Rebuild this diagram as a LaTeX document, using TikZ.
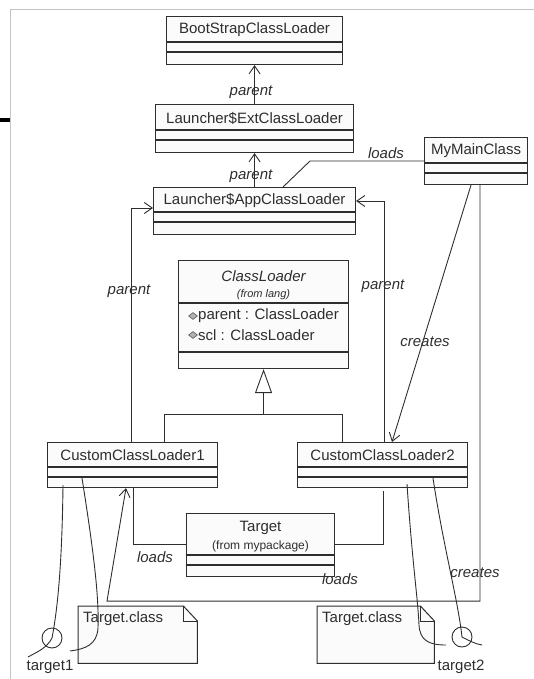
\documentclass[tikz,border=0pt]{standalone}
\usepackage{fontspec}
\setmainfont{Liberation Sans}
\usetikzlibrary{arrows.meta,calc,shapes.geometric}

\definecolor{ink}{HTML}{2E2E2E}
\definecolor{framegray}{HTML}{C4C4C4}
\definecolor{boxfill}{HTML}{FBFBFB}

\tikzset{
  classbox/.style={draw=ink, line width=1.1pt, fill=boxfill, rectangle,
                   inner sep=0pt, anchor=north west},
  notebox/.style={rectangle, inner sep=0pt, anchor=north west},
  noteline/.style={draw=ink, line width=1pt, fill=boxfill},
  divider/.style={draw=ink, line width=1.1pt},
  title/.style={font=\fontsize{15}{17}\selectfont, text=ink, inner sep=0pt},
  smalltitle/.style={font=\fontsize{12}{14}\selectfont, text=ink, inner sep=0pt},
  lbl/.style={font=\fontsize{15}{17}\selectfont\itshape, text=ink, inner sep=0pt},
  conn/.style={draw=ink, line width=0.9pt},
  assoc/.style={conn, -{Straight Barb[length=8pt,width=11pt,line width=0.9pt]}},
  generalize/.style={conn, -{Triangle[open,length=24pt,width=17pt,fill=white]}},
  hand/.style={draw=ink, line width=0.9pt},
  attrmark/.style={diamond, draw=gray!70!black, fill=gray!60, inner sep=0pt,
                   minimum width=9pt, minimum height=7pt, line width=0.6pt},
  lollipop/.style={circle, draw=ink, line width=0.9pt, minimum size=20pt, inner sep=0pt},
}

% two compartment dividers below the top edge of a class box
\newcommand\classdividers[3]{%
  \draw[divider] ($(#1.north west)+(0,#2)$) -- ($(#1.north east)+(0,#2)$)
                 ($(#1.north west)+(0,#3)$) -- ($(#1.north east)+(0,#3)$);}

% note with a folded corner
\newcommand\notepaper[1]{%
  \draw[noteline] (#1.north west) -- ($(#1.north east)+(-14,0)$)
        -- ($(#1.north east)+(0,15)$) -- (#1.south east) -- (#1.south west) -- cycle;
  \draw[noteline, fill=none] ($(#1.north east)+(-14,0)$) |- ($(#1.north east)+(0,15)$);}

\begin{document}
\begin{tikzpicture}[x=1pt,y=-1pt]
\useasboundingbox (0,0) rectangle (534,679);

% sheet border
\draw[framegray, line width=0.8pt] (10,679) -- (10,9) -- (534,9);
\draw[black, line width=4pt] (0,120) -- (10,120);

% ---------- class boxes ----------
\node[classbox, minimum width=176pt, minimum height=48pt] (boot) at (166,16) {};
\classdividers{boot}{26}{36}
\node[title] (bootname) at ($(boot.north)+(0,14)$) {BootStrapClassLoader};

\node[classbox, minimum width=198pt, minimum height=48pt] (ext) at (155,104) {};
\classdividers{ext}{26}{36}
\node[title] (extname) at ($(ext.north)+(0,14)$) {Launcher\$ExtClassLoader};

\node[classbox, minimum width=202pt, minimum height=47pt] (app) at (153,187) {};
\classdividers{app}{25}{35}
\node[title] (appname) at ($(app.north)+(0,14)$) {Launcher\$AppClassLoader};

\node[classbox, minimum width=103pt, minimum height=47pt] (mymain) at (424,137) {};
\classdividers{mymain}{26}{36}
\node[title] (mymainname) at ($(mymain.north)+(0,14)$) {MyMainClass};

\node[classbox, minimum width=170pt, minimum height=108pt] (classloader) at (178,260) {};
\classdividers{classloader}{43}{92}
\node[title, font=\fontsize{15}{17}\selectfont\itshape] (clname) at ($(classloader.north)+(0,16)$) {ClassLoader};
\node[smalltitle, font=\fontsize{11}{13}\selectfont\itshape] (clpkg) at ($(classloader.north)+(0,35)$) {(from lang)};
\node[attrmark] (attr1mark) at ($(classloader.north west)+(15,56)$) {};
\node[title, anchor=west] (attr1) at ($(classloader.north west)+(20,56)$) {parent : ClassLoader};
\node[attrmark] (attr2mark) at ($(classloader.north west)+(15,75)$) {};
\node[title, anchor=west] (attr2) at ($(classloader.north west)+(20,75)$) {scl : ClassLoader};

\node[classbox, minimum width=170pt, minimum height=45pt] (ccl1) at (47,442) {};
\classdividers{ccl1}{25}{35}
\node[title] (ccl1name) at ($(ccl1.north)+(0,13)$) {CustomClassLoader1};

\node[classbox, minimum width=170pt, minimum height=45pt] (ccl2) at (297,442) {};
\classdividers{ccl2}{25}{35}
\node[title] (ccl2name) at ($(ccl2.north)+(0,13)$) {CustomClassLoader2};

\node[classbox, minimum width=148pt, minimum height=63pt] (target) at (186,513) {};
\classdividers{target}{42}{52}
\node[title] (targetname) at ($(target.north)+(0,15)$) {Target};
\node[smalltitle] (targetpkg) at ($(target.north)+(0,33)$) {(from mypackage)};

% ---------- notes ----------
\node[notebox, minimum width=119pt, minimum height=57pt] (note1) at (78,606) {};
\notepaper{note1}
\node[title, anchor=west] (note1text) at ($(note1.north west)+(5,13)$) {Target.class};

\node[notebox, minimum width=117pt, minimum height=57pt] (note2) at (317,606) {};
\notepaper{note2}
\node[title, anchor=west] (note2text) at ($(note2.north west)+(5,13)$) {Target.class};

% ---------- parent chain ----------
\draw[assoc] (ext.north) -- (boot.south);
\node[lbl] (parentA) at (251,92) {parent};
\draw[assoc] (app.north) -- (ext.south);
\node[lbl] (parentB) at (251,176) {parent};

\draw[assoc] ($(ccl1.north west)+(84,0)$) |- ($(app.north west)+(0,21)$);
\node[lbl] (parentC) at (129,291) {parent};
\draw[assoc] ($(ccl2.north west)+(87,0)$) |- ($(app.north east)+(0,14)$);
\node[lbl] (parentD) at (383,286) {parent};

% ---------- MyMainClass ----------
\draw[conn] ($(mymain.north west)+(0,24)$) -- ++(-114,0) -- ($(app.north west)+(130,0)$);
\node[lbl] (loadsA) at (386,153) {loads};

\draw[assoc] ($(mymain.south west)+(47,0)$) -- ($(ccl2.north west)+(95,0)$);
\node[lbl] (createsA) at (425,342) {creates};

\draw[assoc] ($(mymain.south west)+(56,0)$) -- ($(mymain.south west)+(56,416)$)
   -- ($(ccl1.south west)+(60,113)$) -- ($(ccl1.south west)+(79,0)$);
\node[lbl] (createsB) at (475,573) {creates};

% ---------- generalization ----------
\coordinate (genjoin) at ($(classloader.south)+(0,45)$);
\draw[conn] ($(ccl1.north west)+(117,0)$) |- (genjoin) -| ($(ccl2.north west)+(45,0)$);
\draw[generalize] (genjoin) -- (classloader.south);

% ---------- loading Target ----------
\draw[conn] ($(ccl1.south west)+(86,0)$) |- ($(target.north west)+(0,31)$);
\node[lbl] (loadsB) at (155,557) {loads};
\draw[conn] ($(ccl2.south west)+(86,3)$) |- ($(target.north east)+(0,31)$);
\node[lbl] (loadsC) at (340,579) {loads};

% ---------- instances ----------
\node[lollipop] (t1) at (52,638) {};
\node[title] (t1name) at (50,667) {target1};
\node[lollipop] (t2) at (462,637) {};
\node[title] (t2name) at (461,667) {target2};

\draw[hand] ($(ccl1.south west)+(16,-3)$) .. controls (62,570) and (57,612) .. (t1.center)
            .. controls (47,648) and (37,652) .. (28,657);
\draw[hand] ($(ccl1.south west)+(35,-10)$) .. controls (95,560) and (99,600) .. (98,628)
            .. controls (97,645) and (85,649) .. (70,651);
\draw[hand] ($(ccl2.south west)+(110,-4)$) .. controls (412,560) and (418,600) .. (419,625)
            .. controls (420,640) and (428,645) .. (446,645);
\draw[hand] ($(ccl2.south west)+(136,-10)$) .. controls (443,545) and (458,600) .. (t2.center)
            .. controls (468,640) and (475,644) .. (482,645);
\end{tikzpicture}
\end{document}
